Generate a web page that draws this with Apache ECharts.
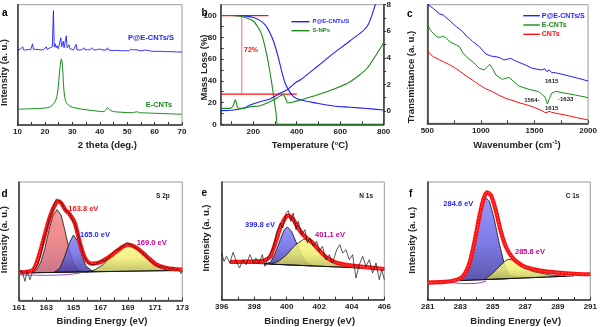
<!DOCTYPE html>
<html><head><meta charset="utf-8">
<script src="https://cdn.jsdelivr.net/npm/echarts@6/dist/echarts.min.js"></script>
<style>html,body{margin:0;padding:0;background:#fff}#c{width:600px;height:327px}</style>
</head><body><div id="c"></div>
<script>
// ---------- Panel a: XRD ----------
const aTickLabels = [10,20,30,40,50,60,70];
const aTicks = [10,15,20,25,30,35,40,45,50,55,60,65,70];
const xrdBlue = [[10,75],[11,75.5],[11.6,75],[11.9,78],[12.2,75],[13,74.8],[14,75.3],[14.8,75],[15.2,76],[15.5,81],[15.8,75.5],[16.5,75],[17.5,75.4],[18.5,74.9],[19.5,75.2],[20.2,75],[20.5,78],[20.8,75.5],[21.5,75.2],[21.9,77],[22.3,76],[22.7,78],[23.1,114],[23.4,78],[23.8,81],[24.1,77],[24.5,79],[24.9,76],[25.4,77],[25.8,87],[26.1,78],[26.4,77],[26.7,83.5],[27.0,77],[27.4,78],[27.8,89],[28.1,77],[28.5,76.5],[28.8,80],[29.1,76],[29.4,77.5],[29.8,75.5],[30.5,75],[31.0,75.3],[31.4,80.5],[31.7,75],[32.5,74.8],[33.5,75],[34.2,77],[34.6,75],[35.5,75.2],[36.0,76.5],[36.4,75],[37.0,77],[37.5,76],[37.9,74.8],[38.8,75],[39.8,75.8],[40.3,74.5],[41.5,74.6],[42.5,75],[42.8,77],[43.2,75],[44.5,74.2],[46,74.5],[47.5,74.2],[47.9,75.5],[48.3,74],[49.5,74.2],[50.5,74],[51.3,75.3],[51.8,74],[52.3,75],[52.8,74],[53.2,75.2],[53.6,73.8],[55,73.9],[56.7,74.8],[57.2,73.6],[58.5,73.8],[60,73.4],[62,73.5],[64,73.2],[66,73.1],[68,72.9],[70,72.7]];
const xrdGreen = [[10,15.7],[12,15.9],[14,16.1],[16,16.3],[18,16.5],[20,16.9],[21,17.3],[22,18.3],[23,20.5],[24,25],[24.6,32],[25,42],[25.4,55],[25.8,64],[26.0,66],[26.2,64],[26.5,55],[26.8,40],[27.1,30],[27.5,24.5],[28,21.5],[29,19],[30,17.8],[32,16.5],[35,15.2],[38,14.2],[40,13.6],[41.5,13.3],[42.2,15],[42.8,17.3],[43.4,16],[44,14.5],[45,13.4],[47,12.9],[50,12.4],[52,12.3],[53.5,13.2],[54.5,12.3],[57,12],[60,11.7],[65,11.2],[70,10.7]];

// ---------- Panel b: TGA / DSC ----------
const bTickLabels = [200,400,600,800];
const bTicks = [100,200,300,400,500,600,700,800];
const bLeftLabels = [0,20,40,60,80,100];
const bLeftTicks = [0,10,20,30,40,50,60,70,80,90,100];
const bRightLabels = [0,2,4,6,8];
const bRightTicks = [0,1,2,3,4,5,6,7,8];
const tgaBlue = [[50,100],[100,100],[150,99.8],[170,99.4],[200,98.3],[224,96.3],[254,91.7],[277,84],[296,74.8],[316,60.9],[331,48.6],[347,37.8],[362,31.7],[385,25.5],[416,22.5],[493,19.4],[569,16.9],[646,15.7],[723,14.5],[800,13.2]];
const tgaGreen = [[50,100],[100,100],[139,99.4],[170,97.8],[201,94.8],[224,88.6],[239,82.5],[254,71.1],[270,55.7],[285,37.8],[296,22.5],[305,10.2],[313,0],[400,0],[600,0],[800,0]];
const dscBlue = [[50,0.03],[100,0.06],[139,0.15],[160,0.25],[185,0.45],[231,0.7],[277,0.9],[323,1.33],[354,1.58],[400,2.2],[416,2.33],[493,3.33],[569,4.34],[646,5.29],[723,6.34],[762,8.0],[775,8.6]];
const dscGreen = [[50,0.2],[93,0.2],[107,0.38],[113,0.7],[118,0.85],[123,0.55],[128,0.25],[154,0.2],[185,0.32],[231,0.4],[277,0.7],[308,0.96],[322,1.12],[338,1.25],[350,0.9],[358,0.6],[380,0.66],[416,0.82],[493,1.2],[569,1.63],[646,2.2],[723,3.2],[800,5.14]];
const refTop = [[50,100],[270,100]];
const refLow = [[50,27.7],[400,27.7]];
const refVert = [[147,100],[147,27.7]];
const tangentA = [[300,31.7],[379,18.7]];
const tangentB = [[290,22.5],[350,32]];

// ---------- Panel c: FTIR ----------
const cTickLabels = [500,1000,1500,2000];
const cTicks = [500,750,1000,1250,1500,1750,2000];
const ftirBlue = [[500,358],[555,345],[617,328],[648,325],[709,308],[771,290],[832,275],[863,262],[893,255],[924,245],[986,230],[1047,208],[1093,202],[1170,198],[1216,190],[1278,195],[1324,187],[1416,175],[1478,165],[1570,160],[1595,164],[1615,155],[1640,160],[1660,152],[1693,152],[1785,145],[1908,135],[2000,127]];
const ftirGreen = [[500,298],[520,285],[540,275],[586,260],[620,258],[648,262],[680,255],[709,245],[771,235],[801,230],[830,212],[863,200],[893,192],[924,185],[986,165],[1032,160],[1062,170],[1084,177],[1108,165],[1139,145],[1200,132],[1262,138],[1308,125],[1354,112],[1447,102],[1539,95],[1564,88],[1600,78],[1620,58],[1640,75],[1660,90],[1700,96],[1757,92],[1880,85],[2000,77]];
const ftirRed = [[500,220],[520,210],[555,200],[600,193],[648,185],[700,177],[740,170],[800,157],[863,142],[920,130],[986,115],[1050,103],[1108,95],[1170,84],[1231,75],[1300,68],[1354,62],[1420,56],[1478,50],[1540,42],[1570,38],[1595,33],[1616,32],[1635,36],[1660,33],[1700,30],[1785,25],[1908,16],[2000,10]];

// ---------- Panel d: S 2p ----------
const dTickLabels = [161,163,165,167,169,171,173];
const dTicks = [161,162,163,164,165,166,167,168,169,170,171,172,173];
const dBase = [[161,82],[173,90]];
const dPurple = [[161.1,76],[163,75],[164.5,77],[165.5,82]];
const dPink = [[161.9,82.6],[162.3,92],[162.6,115],[162.9,155],[163.2,210],[163.5,255],[163.8,272],[164.1,255],[164.4,205],[164.7,150],[165.0,112],[165.3,92],[165.7,86],[166.1,85.4]];
const dBlue = [[163.6,84.4],[164.0,96],[164.35,130],[164.7,172],[165.0,196],[165.3,178],[165.6,138],[165.9,104],[166.3,90],[166.7,86.1]];
const dYellow = [[166.0,85.3],[166.6,92],[167.2,108],[167.8,133],[168.4,156],[169.0,167],[169.6,158],[170.2,136],[170.8,112],[171.4,97],[172.0,91],[172.6,89.1]];
const dEnv = [[161,84],[161.5,85],[162.05,92],[162.4,125],[162.8,182],[163.28,252],[163.65,287],[163.9,297],[164.1,292],[164.4,272],[164.75,257],[165.1,232],[165.48,172],[165.85,127],[166.34,110],[166.95,114],[167.69,132],[168.42,155],[169,167],[169.65,157],[170.38,132],[171.1,107],[171.85,97],[173,92]];
const dRaw = [[161.0,84],[161.2,90],[161.44,57],[161.6,88],[161.8,62],[162.0,86],[162.2,95],[162.4,108],[162.6,135],[162.8,178],[163.0,205],[163.2,240],[163.4,262],[163.6,290],[163.75,305],[163.9,298],[164.1,294],[164.3,278],[164.5,266],[164.7,262],[164.9,245],[165.1,232],[165.3,205],[165.5,170],[165.7,140],[165.9,122],[166.1,112],[166.3,108],[166.5,106],[166.7,110],[166.9,114],[167.1,120],[167.3,118],[167.5,127],[167.7,132],[167.9,143],[168.1,150],[168.3,152],[168.5,158],[168.7,164],[168.9,172],[169.1,168],[169.3,165],[169.5,160],[169.7,155],[169.9,148],[170.1,142],[170.3,133],[170.5,125],[170.7,118],[170.9,112],[171.1,106],[171.3,100],[171.5,104],[171.7,96],[171.9,100],[172.1,94],[172.3,97],[172.5,90],[172.7,94],[172.9,80],[173.0,88]];

// ---------- Panel e: N 1s ----------
const eTickLabels = [396,398,400,402,404,406];
const eTicks = [396,397,398,399,400,401,402,403,404,405,406];
const eBase = [[396.51,112],[406,92]];
const eBlue = [[398.6,107.6],[399.0,112],[399.3,140],[399.6,180],[399.85,210],[400.04,218],[400.3,205],[400.6,170],[400.9,135],[401.2,113],[401.6,101.3]];
const eYellow = [[399.0,106.8],[399.5,115],[400.0,135],[400.5,163],[401.06,182],[401.5,172],[402,148],[402.5,128],[403,114],[403.5,104],[404.0,98],[404.5,95.2]];
const eEnv = [[396.5,113],[397,113.5],[397.5,114],[398,114.5],[398.5,116],[398.8,122],[399,130],[399.3,170],[399.6,215],[399.9,245],[400.1,252],[400.4,240],[400.7,215],[401,195],[401.3,182],[401.6,170],[402,148],[402.5,125],[403,112],[403.5,106],[404,102],[405,97],[406,92]];
const eRaw = [[396.0,140],[396.14,115],[396.3,130],[396.5,110],[396.7,142],[396.9,115],[397.1,95],[397.3,120],[397.5,105],[397.74,135],[397.95,110],[398.1,125],[398.3,110],[398.5,135],[398.66,100],[398.87,130],[399.07,145],[399.2,160],[399.4,205],[399.6,230],[399.75,215],[399.96,260],[400.1,267],[400.24,235],[400.4,260],[400.57,210],[400.71,235],[400.92,195],[401.12,210],[401.27,170],[401.43,185],[401.64,160],[401.84,175],[402.0,145],[402.2,160],[402.41,120],[402.62,135],[402.82,110],[403.07,150],[403.27,165],[403.44,140],[403.64,150],[403.85,120],[404.05,135],[404.26,65],[404.46,105],[404.67,130],[404.87,100],[405.08,120],[405.28,80],[405.49,110],[405.69,60],[405.84,90],[406,60]];

// ---------- Panel f: C 1s ----------
const fTickLabels = [281,283,285,287,289,291];
const fTicks = [281,282,283,284,285,286,287,288,289,290,291];
const fBase = [[283,58],[290,72]];
const fPurple = [[282.5,52],[283.3,49],[284.0,50],[284.6,56]];
const fBlue = [[283,58],[283.5,90],[283.8,150],[284.1,240],[284.4,295],[284.6,305],[284.8,295],[285.1,240],[285.4,170],[285.7,110],[286.0,75],[286.5,65.1]];
const fYellow = [[284.5,61],[285.0,80],[285.5,105],[285.8,118],[286.0,122],[286.3,118],[286.8,100],[287.5,85],[288.5,75],[289.5,71.1]];
const fEnv = [[281,52],[282,54],[282.5,57],[283,65],[283.3,80],[283.6,115],[283.9,180],[284.2,255],[284.45,305],[284.65,322],[284.9,312],[285.2,265],[285.5,205],[285.8,160],[286.2,127],[286.6,110],[287,99],[288,87],[289,82],[290,78.5],[291,77]];

// ---------- build ----------
const FF = '"Liberation Sans", Arial, sans-serif';
const BLUE = '#1f1fff', GREEN = '#1a8c1a', RED = '#ff1010', MAG = '#c8008c';
const chart = echarts.init(document.getElementById('c'));

const grids = [
  {left:17.5, top:4.7, width:164.5, height:120.3},
  {left:220.7, top:4.7, width:162.9, height:119.6},
  {left:427.3, top:4.7, width:162.7, height:118.6},
  {left:19, top:182, width:163.3, height:118.3},
  {left:221.7, top:182, width:162.6, height:117.7},
  {left:427.7, top:182, width:163, height:118}
].map(g => Object.assign({show:true, borderColor:'#9a9a9a', borderWidth:1}, g));

const fmt = v => String(v);
function xAx(gi, min, max, labels, ticks) {
  return {type:'value', gridIndex:gi, min, max,
    axisLine:{show:true, onZero:false, lineStyle:{color:'#333', width:1.5}},
    axisTick:{show:true, inside:true, length:3, customValues:ticks, lineStyle:{color:'#333', width:1}},
    axisLabel:{customValues:labels, formatter:fmt, fontSize:8, fontWeight:'bold', color:'#222', margin:3, fontFamily:FF},
    splitLine:{show:false}};
}
function yHidden(gi, max) {
  return {type:'value', gridIndex:gi, min:0, max,
    axisLine:{show:true, onZero:false, lineStyle:{color:'#333', width:1.5}},
    axisTick:{show:false}, axisLabel:{show:false}, splitLine:{show:false}};
}
const xAxis = [
  xAx(0,10,70,aTickLabels,aTicks),
  xAx(1,50,800,bTickLabels,bTicks),
  xAx(2,500,2000,cTickLabels,cTicks),
  xAx(3,161,173,dTickLabels,dTicks),
  xAx(4,396,406,eTickLabels,eTicks),
  xAx(5,281,291,fTickLabels,fTicks)
];
const yAxis = [
  yHidden(0,120),
  {type:'value', gridIndex:1, min:0, max:110,
    axisLine:{show:true, onZero:false, lineStyle:{color:'#333', width:1.5}},
    axisTick:{show:true, inside:true, length:3, customValues:bLeftTicks, lineStyle:{color:'#333'}},
    axisLabel:{customValues:bLeftLabels, formatter:fmt, fontSize:8, fontWeight:'bold', color:'#222', margin:4, fontFamily:FF},
    splitLine:{show:false}},
  {type:'value', gridIndex:1, min:-1, max:8, position:'right',
    axisLine:{show:true, onZero:false, lineStyle:{color:'#333', width:1.5}},
    axisTick:{show:true, inside:false, length:2.5, customValues:bRightTicks, lineStyle:{color:'#333'}},
    axisLabel:{customValues:bRightLabels, formatter:fmt, fontSize:8, fontWeight:'bold', color:'#222', margin:3, fontFamily:FF},
    splitLine:{show:false}},
  yHidden(2,356),
  yHidden(3,355),
  yHidden(4,353),
  yHidden(5,353)
];

function line(name, data, xi, yi, color, w, extra) {
  return Object.assign({type:'line', name, xAxisIndex:xi, yAxisIndex:yi, data, symbol:'none',
    lineStyle:{color, width:w}, itemStyle:{color}, silent:true, z:3}, extra || {});
}
function poly(data, xi, yi, stops) {
  return {type:'custom', xAxisIndex:xi, yAxisIndex:yi, data, silent:true, z:2,
    renderItem: (params, api) => {
      if (params.dataIndex !== 0) return null;
      const pts = data.map(p => api.coord(p));
      return {type:'polygon', shape:{points:pts},
        style:{fill:new echarts.graphic.LinearGradient(0,0,0,1,stops.map((c,i)=>({offset:i/(stops.length-1), color:c}))),
               stroke:'#111', lineWidth:0.8}};
    }};
}
function env(data, xi, yi) {
  return [
    line('env', data, xi, yi, RED, 4.2, {z:4, smooth:0.3}),
    line('envdots', data, xi, yi, 'rgba(255,220,220,0.8)', 0.7, {z:5, smooth:0.3, lineStyle:{color:'rgba(255,225,225,0.85)', width:0.7, type:[1,2]}})
  ];
}

const PINK = ['rgba(245,140,140,0.9)','rgba(235,125,128,0.9)','rgba(195,105,130,0.9)'];
const BLU  = ['rgba(130,130,248,0.85)','rgba(105,105,228,0.85)','rgba(70,62,160,0.88)'];
const YEL  = ['rgba(250,250,130,0.85)','rgba(238,238,112,0.85)','rgba(185,185,88,0.88)'];

const series = [
  // a
  line('xrdBlue', xrdBlue, 0, 0, BLUE, 0.9),
  line('xrdGreen', xrdGreen, 0, 0, GREEN, 1, {smooth:0.3}),
  // b
  line('ref', refTop, 1, 1, RED, 1.2),
  line('ref', refLow, 1, 1, RED, 1.2),
  line('ref', refVert, 1, 1, 'rgba(245,120,120,0.9)', 1.2),
  line('ref', tangentA, 1, 1, 'rgba(245,120,120,0.8)', 0.8, {lineStyle:{color:'rgba(245,120,120,0.8)', width:0.8, type:[2,1]}}),
  line('ref', tangentB, 1, 1, 'rgba(245,120,120,0.8)', 0.8, {lineStyle:{color:'rgba(245,120,120,0.8)', width:0.8, type:[2,1]}}),
  line('P@E-CNTs/S', tgaBlue, 1, 1, BLUE, 1.1, {smooth:0.3}),
  line('S-NPs', tgaGreen, 1, 1, GREEN, 1.1, {smooth:0.2}),
  line('P@E-CNTs/S', dscBlue, 1, 2, BLUE, 1.1, {smooth:0.3}),
  line('S-NPs', dscGreen, 1, 2, GREEN, 1.1, {smooth:0.2}),
  // c
  line('P@E-CNTs/S', ftirBlue, 2, 3, BLUE, 1),
  line('E-CNTs', ftirGreen, 2, 3, GREEN, 1),
  line('CNTs', ftirRed, 2, 3, RED, 1),
  // d
  poly(dPink, 3, 4, PINK),
  poly(dBlue, 3, 4, BLU),
  poly(dYellow, 3, 4, YEL),
  line('base', dBase, 3, 4, '#111', 0.9),
  line('purple', dPurple, 3, 4, '#9933cc', 0.9, {smooth:0.3}),
  ...env(dEnv, 3, 4),
  line('raw', dRaw, 3, 4, '#111', 0.7, {z:6}),
  // e
  poly(eBlue, 4, 5, BLU),
  poly(eYellow, 4, 5, YEL),
  line('base', eBase, 4, 5, '#111', 0.9),
  ...env(eEnv, 4, 5),
  line('raw', eRaw, 4, 5, '#111', 0.7, {z:6}),
  // f
  poly(fBlue, 5, 6, BLU),
  poly(fYellow, 5, 6, YEL),
  line('base', fBase, 5, 6, '#111', 0.9),
  line('purple', fPurple, 5, 6, '#9933cc', 1, {smooth:0.3}),
  ...env(fEnv, 5, 6)
];

function T(text, x, y, o) {
  return {type:'text', x, y, silent:true, z:100,
    style:Object.assign({text, fontFamily:FF, fontWeight:'bold', fontSize:7.5, fill:'#000', align:'left', verticalAlign:'middle'}, o || {})};
}
function VT(text, x, y) {
  return {type:'text', x, y, rotation:Math.PI/2, silent:true, z:100,
    style:{text, fontFamily:FF, fontWeight:'bold', fontSize:9.5, fill:'#222', align:'center', verticalAlign:'middle'}};
}
const HT = (text, x, y) => T(text, x, y, {fontSize:9.5, fill:'#222', align:'center'});
const LET = (text, x, y) => T(text, x, y, {fontSize:10, verticalAlign:'alphabetic'});

const graphic = [
  LET('a', 2, 8.5), LET('b', 201.5, 8.5), LET('c', 407, 9), LET('d', 1.5, 188.8), LET('e', 201.5, 188), LET('f', 409, 189),
  HT('2 theta (deg.)', 107.3, 145), HT('Temperature (°C)', 310, 145),
  {type:'text', x:517, y:145, silent:true, z:100, style:{text:'Wavenumber (cm{s|-1})', fontFamily:FF, fontWeight:'bold', fontSize:9.5, fill:'#222', align:'center', verticalAlign:'middle',
     rich:{s:{fontFamily:FF, fontWeight:'bold', fontSize:6, fill:'#222', verticalAlign:'top', padding:[0,0,5,0]}}}},
  HT('Binding Energy (eV)', 102, 321.5), HT('Binding Energy (eV)', 309.7, 321.5), HT('Binding Energy (eV)', 515.7, 321.5),
  VT('Intensity (a. u.)', 4, 72.5), VT('Mass Loss (%)', 204.3, 67.5), VT('Transmittance (a. u.)', 411, 77),
  VT('Intensity (a. u.)', 4, 239.7), VT('Intensity (a. u.)', 206.3, 238), VT('Intensity (a. u.)', 412.2, 240.3),
  // a labels
  T('P@E-CNTs/S', 128, 37.5, {fill:BLUE}), T('E-CNTs', 145.7, 104.5, {fill:GREEN}),
  // b
  T('72%', 244, 50, {fill:RED, fontSize:7}),
  // c
  T('1615', 551.7, 81, {fontSize:6, align:'center', fill:'#222'}),
  T('1564-', 539.5, 100, {fontSize:6, align:'right', fill:'#222'}),
  T('-1633', 558, 99, {fontSize:6, fill:'#222'}),
  T('1615', 551.7, 108, {fontSize:6, align:'center', fill:'#222'}),
  // d
  T('163.8 eV', 68.3, 209, {fill:RED}), T('165.0 eV', 80, 234.7, {fill:BLUE}), T('169.0 eV', 136.7, 243, {fill:MAG}),
  T('S 2p', 156, 196.5, {fontSize:6.5, fill:'#222'}),
  // e
  T('399.8 eV', 245, 224.7, {fill:BLUE}), T('401.1 eV', 315, 234.7, {fill:MAG}), T('N 1s', 359.3, 196.5, {fontSize:6.5, fill:'#222'}),
  // f
  T('284.6 eV', 443.3, 203.7, {fill:BLUE}), T('285.8 eV', 515, 252.3, {fill:MAG}), T('C 1s', 565.7, 196.5, {fontSize:6.5, fill:'#222'})
];

const legend = [
  {data:[{name:'P@E-CNTs/S', textStyle:{color:BLUE}}, {name:'S-NPs', textStyle:{color:GREEN}}],
   left:291.5, top:18.2, orient:'vertical', icon:'rect', itemWidth:18, itemHeight:1.4, itemGap:2, padding:0, selectedMode:false,
   textStyle:{fontSize:6, fontWeight:'bold', fontFamily:FF, lineHeight:7, padding:[0,0,0,-2]}},
  {data:[{name:'P@E-CNTs/S', textStyle:{color:BLUE}}, {name:'E-CNTs', textStyle:{color:GREEN}}, {name:'CNTs', textStyle:{color:RED}}],
   left:523.3, top:11.7, orient:'vertical', icon:'rect', itemWidth:16.5, itemHeight:1.4, itemGap:1.3, padding:0, selectedMode:false,
   textStyle:{fontSize:7, fontWeight:'bold', fontFamily:FF, lineHeight:8, padding:[0,0,0,-3]}}
];

chart.setOption({animation:false, backgroundColor:'#fff', grid:grids, xAxis, yAxis, series, graphic, legend});
</script>
</body></html>
